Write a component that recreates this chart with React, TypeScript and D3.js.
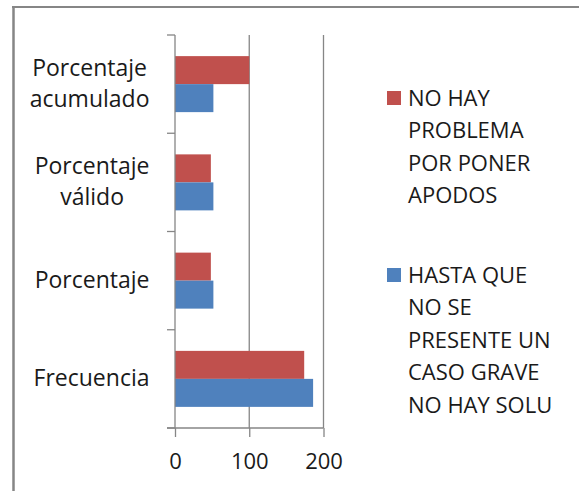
import React, { useRef, useEffect } from 'react';
import * as d3 from 'd3';

// categories, top to bottom as drawn
const categories = ['Porcentaje acumulado', 'Porcentaje válido', 'Porcentaje', 'Frecuencia'];
const seriesNames = ['NO HAY PROBLEMA POR PONER APODOS', 'HASTA QUE NO SE PRESENTE UN CASO GRAVE NO HAY SOLU'];
const noHayProblema = [100, 48.3, 48.3, 174];
const hastaQue = [51.7, 51.7, 51.7, 186];
const xTicks = [0, 100, 200];
const legendLines = [
  ['NO HAY', 'PROBLEMA', 'POR PONER', 'APODOS'],
  ['HASTA QUE', 'NO SE', 'PRESENTE UN', 'CASO GRAVE', 'NO HAY SOLU'],
];
const colors = ['#C0504D', '#4F81BD'];

const App = () => {
  const svgRef = useRef<SVGSVGElement>(null);

  useEffect(() => {
    const svg = d3.select(svgRef.current);
    svg.selectAll('*').remove();

    const width = 579;
    const height = 491;
    const font = '"Open Sans", sans-serif';
    const grey = '#868686';
    const textColor = '#1a1a1a';

    const x = d3.scaleLinear().domain([0, 200]).range([175, 323.5]);
    const y = d3.scaleBand().domain(categories).range([35, 428]).padding(0);
    const bw = y.bandwidth();
    const ys = d3.scaleBand().domain(seriesNames).range([bw * 0.215, bw * 0.785]);

    svg.attr('width', width).attr('height', height).attr('viewBox', [0, 0, width, height]);

    // frame (cropped on right and bottom)
    svg.append('line').attr('x1', 12).attr('x2', width).attr('y1', 7).attr('y2', 7)
      .attr('stroke', grey).attr('stroke-width', 2);
    svg.append('line').attr('x1', 13.5).attr('x2', 13.5).attr('y1', 6).attr('y2', height)
      .attr('stroke', grey).attr('stroke-width', 2.5);

    // gridlines
    svg.append('g').selectAll('line').data(xTicks.filter(d => d > 0)).join('line')
      .attr('x1', d => x(d)).attr('x2', d => x(d))
      .attr('y1', 35).attr('y2', 428)
      .attr('stroke', grey).attr('stroke-width', 1.3);

    // bars
    const series = [noHayProblema, hastaQue];
    series.forEach((vals, si) => {
      svg.append('g').selectAll('rect').data(categories).join('rect')
        .attr('x', x(0))
        .attr('y', (c) => (y(c) as number) + (ys(seriesNames[si]) as number))
        .attr('width', (c, i) => x(vals[i]) - x(0))
        .attr('height', ys.bandwidth())
        .attr('fill', colors[si]);
    });

    // category axis
    const boundaries = d3.range(categories.length + 1).map(i => 35 + i * y.step());
    svg.append('line').attr('x1', x(0)).attr('x2', x(0)).attr('y1', 35).attr('y2', 428)
      .attr('stroke', grey).attr('stroke-width', 1.3);
    svg.append('g').selectAll('line').data(boundaries).join('line')
      .attr('x1', 167).attr('x2', x(0)).attr('y1', d => d).attr('y2', d => d)
      .attr('stroke', grey).attr('stroke-width', 1.3);

    // value axis
    const xAxis = svg.append('g')
      .attr('transform', 'translate(0,428)')
      .call(d3.axisBottom(x).tickValues(xTicks).tickSize(9).tickSizeOuter(0).tickPadding(16));
    xAxis.select('.domain').remove();
    xAxis.selectAll('line').attr('stroke', grey).attr('stroke-width', 1.3);
    xAxis.selectAll('text').attr('font-family', font).attr('font-size', 22)
      .attr('fill', textColor);
    svg.append('line').attr('x1', 167).attr('x2', x(200)).attr('y1', 428).attr('y2', 428)
      .attr('stroke', grey).attr('stroke-width', 1.3);

    // category labels (wrapped, centred, right edge at 150)
    const labels = svg.append('g').selectAll('text').data(categories).join('text')
      .attr('font-family', font).attr('font-size', 23).attr('fill', textColor)
      .attr('text-anchor', 'middle');
    labels.each(function (c) {
      const t = d3.select(this);
      const lines = c.split(' ');
      const cy = (y(c) as number) + bw / 2 - 1;
      lines.forEach((ln, i) => {
        t.append('tspan').attr('y', cy + (i - (lines.length - 1) / 2) * 31).attr('dy', '0.35em').text(ln);
      });
      const w = Math.max(...(t.selectAll('tspan').nodes() as SVGTSpanElement[]).map(n => n.getComputedTextLength()));
      t.selectAll('tspan').attr('x', 149.5 - w / 2);
    });

    // legend
    const legendTop = [98, 275];
    legendLines.forEach((lines, si) => {
      const g = svg.append('g');
      g.append('rect').attr('x', 387).attr('y', legendTop[si] - 7).attr('width', 14).attr('height', 14)
        .attr('fill', colors[si]);
      g.append('text').attr('font-family', font).attr('font-size', 22).attr('fill', textColor)
        .selectAll('tspan').data(lines).join('tspan')
        .attr('x', 408).attr('y', (d, i) => legendTop[si] + i * 32.5).attr('dy', '0.35em')
        .text(d => d);
    });
  }, []);

  return <svg ref={svgRef} style={{ position: 'absolute', left: 0, top: 0 }}></svg>;
};

export default App;
